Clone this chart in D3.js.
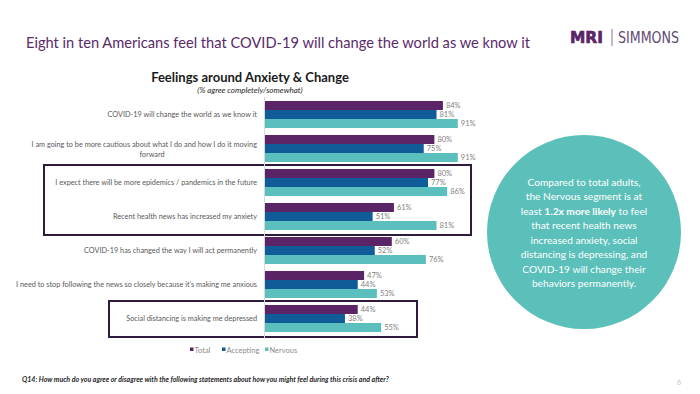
<!DOCTYPE html>
<html>
<head>
<meta charset="utf-8">
<script src="https://cdn.jsdelivr.net/npm/d3@7"></script>
<style>
  body { margin: 0; background: #ffffff; }
  svg { display: block; font-family: Lato, "Open Sans", sans-serif; }
</style>
</head>
<body>
<div id="chart"></div>
<script>
//chart data
var categories = [
    'COVID-19 will change the world as we know it',
    'I am going to be more cautious about what I do and how I do it moving forward',
    'I expect there will be more epidemics / pandemics in the future',
    'Recent health news has increased my anxiety',
    'COVID-19 has changed the way I will act permanently',
    'I need to stop following the news so closely because it\u2019s making me anxious',
    'Social distancing is making me depressed'
];
var seriesNames = ['Total', 'Accepting', 'Nervous'];
var totalValues = [84, 80, 80, 61, 60, 47, 44];
var acceptingValues = [81, 75, 77, 51, 52, 44, 38];
var nervousValues = [91, 91, 86, 81, 76, 53, 55];
var seriesColors = ['#5b2466', '#0f5c98', '#5bc0bd'];
var highlightGroups = [[2, 3], [6, 6]];
var calloutLines = [
    ['Compared to total adults,'],
    ['the Nervous segment is at'],
    ['least ', '1.2x more likely', ' to feel'],
    ['that recent health news'],
    ['increased anxiety, social'],
    ['distancing is depressing, and'],
    ['COVID-19 will change their'],
    ['behaviors permanently.']
];

var width = 700, height = 394;
var svg = d3.select('#chart').append('svg')
    .attr('width', width)
    .attr('height', height);

//slide title
svg.append('text')
    .attr('x', 26).attr('y', 48)
    .attr('font-size', 15)
    .attr('fill', '#5a2a6a')
    .attr('textLength', 504)
    .attr('lengthAdjust', 'spacingAndGlyphs')
    .text('Eight in ten Americans feel that COVID-19 will change the world as we know it');

//logo
svg.append('text')
    .attr('x', 570).attr('y', 43)
    .attr('font-family', '"DejaVu Sans", sans-serif')
    .attr('font-weight', 'bold')
    .attr('font-size', 15)
    .attr('fill', '#5b2466')
    .attr('stroke', '#5b2466')
    .attr('stroke-width', 0.6)
    .attr('textLength', 33)
    .attr('lengthAdjust', 'spacingAndGlyphs')
    .text('MRI');
svg.append('line')
    .attr('x1', 612).attr('x2', 612)
    .attr('y1', 29).attr('y2', 46)
    .attr('stroke', '#8a7396').attr('stroke-width', 1);
svg.append('text')
    .attr('x', 618).attr('y', 43)
    .attr('font-family', '"Liberation Sans Narrow", "DejaVu Sans Condensed", sans-serif')
    .attr('font-size', 15)
    .attr('fill', '#5e4a73')
    .attr('textLength', 61)
    .attr('lengthAdjust', 'spacingAndGlyphs')
    .text('SIMMONS');

//chart titles
svg.append('text')
    .attr('x', 250).attr('y', 82)
    .attr('text-anchor', 'middle')
    .attr('font-size', 13)
    .attr('font-weight', 'bold')
    .attr('fill', '#1a1a1a')
    .text('Feelings around Anxiety & Change');
svg.append('text')
    .attr('x', 250).attr('y', 93)
    .attr('text-anchor', 'middle')
    .attr('font-size', 8)
    .attr('font-style', 'italic')
    .attr('fill', '#262626')
    .text('(% agree completely/somewhat)');

//scales
var x = d3.scaleLinear().domain([0, 100]).range([264, 477]);
var y = d3.scaleBand().domain(categories).range([97, 336])
    .paddingInner(0.206).paddingOuter(0.118);
var ySeries = d3.scaleBand().domain(seriesNames).range([0, y.bandwidth()]);
var color = d3.scaleOrdinal().domain(seriesNames).range(seriesColors);

//build rows from the arrays
var rows = categories.map(function (c, i) {
    return {
        category: c,
        values: [
            { name: 'Total', value: totalValues[i] },
            { name: 'Accepting', value: acceptingValues[i] },
            { name: 'Nervous', value: nervousValues[i] }
        ]
    };
});

//highlight boxes
var boxX = [[44, 471], [109, 417]];
highlightGroups.forEach(function (g, i) {
    var top = y(categories[g[0]]) - 4;
    var bottom = y(categories[g[1]]) + y.bandwidth() + 5;
    svg.append('rect')
        .attr('x', boxX[i][0]).attr('y', top)
        .attr('width', boxX[i][1] - boxX[i][0])
        .attr('height', bottom - top)
        .attr('fill', 'none')
        .attr('stroke', '#2e1a3c')
        .attr('stroke-width', 2);
});

//bars
var groups = svg.selectAll('g.group')
    .data(rows)
    .enter()
    .append('g')
    .attr('class', 'group')
    .attr('transform', function (d) { return 'translate(0,' + y(d.category) + ')'; });

groups.selectAll('rect')
    .data(function (d) { return d.values; })
    .enter()
    .append('rect')
    .attr('x', x(0))
    .attr('y', function (d) { return ySeries(d.name); })
    .attr('width', function (d) { return x(d.value) - x(0); })
    .attr('height', ySeries.bandwidth())
    .attr('fill', function (d) { return color(d.name); });

//value labels
groups.selectAll('text.val')
    .data(function (d) { return d.values; })
    .enter()
    .append('text')
    .attr('class', 'val')
    .attr('x', function (d) { return x(d.value) + 3; })
    .attr('y', function (d) { return ySeries(d.name) + ySeries.bandwidth() / 2 + 2.7; })
    .attr('font-size', 7.5)
    .attr('fill', '#7f7f7f')
    .text(function (d) { return d.value + '%'; });

//category axis
var axis = svg.append('g')
    .attr('transform', 'translate(' + x(0) + ',0)')
    .call(d3.axisLeft(y).tickSize(0).tickPadding(7));
axis.select('.domain').attr('stroke', '#d9d9d9').attr('d', 'M0.5,97V338');
axis.selectAll('text')
    .attr('font-family', 'Lato, sans-serif')
    .attr('font-size', 7.3)
    .attr('fill', '#595959')
    .each(function (d) {
        //wrap the long second label onto two lines
        if (d === categories[1]) {
            var t = d3.select(this).text(null).attr('dy', null);
            t.append('tspan').attr('x', -7).attr('dy', '-0.15em')
                .text('I am going to be more cautious about what I do and how I do it moving');
            t.append('tspan').attr('x', -112).attr('dy', '1.25em')
                .attr('text-anchor', 'middle').text('forward');
        }
    });

//legend
var legend = svg.append('g').attr('transform', 'translate(190,350)');
var legendX = [0, 32, 75];
seriesNames.forEach(function (s, i) {
    var g = legend.append('g').attr('transform', 'translate(' + legendX[i] + ',0)');
    g.append('rect').attr('x', 0).attr('y', -2.5).attr('width', 3.5).attr('height', 3.5)
        .attr('fill', color(s));
    g.append('text').attr('x', 4.5).attr('y', 2.5)
        .attr('font-size', 7.5).attr('fill', '#8c8c8c').text(s);
});

//callout circle
svg.append('circle')
    .attr('cx', 584).attr('cy', 232).attr('r', 97)
    .attr('fill', '#5bbfba');
var callout = svg.append('text')
    .attr('text-anchor', 'middle')
    .attr('font-size', 10.2)
    .attr('fill', '#ffffff');
calloutLines.forEach(function (parts, i) {
    var line = callout.append('tspan').attr('x', 584).attr('y', 185.5 + i * 14.5);
    parts.forEach(function (p, j) {
        var sp = j === 0 ? line : callout.append('tspan');
        sp.text(p);
        if (j === 1) sp.attr('font-weight', 'bold');
    });
});

//footer
svg.append('text')
    .attr('x', 22).attr('y', 382)
    .attr('font-size', 7)
    .attr('font-style', 'italic')
    .attr('font-weight', 'bold')
    .attr('fill', '#262626')
    .text('Q14: How much do you agree or disagree with the following statements about how you might feel during this crisis and after?');
svg.append('text')
    .attr('x', 677).attr('y', 385)
    .attr('font-size', 7)
    .attr('fill', '#bfbfbf')
    .text('6');
</script>
</body>
</html>
